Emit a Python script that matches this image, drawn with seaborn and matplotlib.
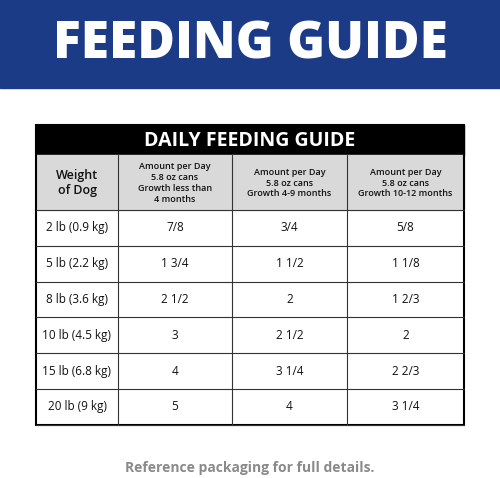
import matplotlib
matplotlib.use("Agg")
import matplotlib.pyplot as plt
import seaborn as sns
from matplotlib.patches import Rectangle

sns.set_style("white")
plt.rcParams['font.family'] = ['Open Sans', 'DejaVu Sans']

title = "FEEDING GUIDE"
table_title = "DAILY FEEDING GUIDE"
col_headers = ["Weight\nof Dog",
               "Amount per Day\n5.8 oz cans\nGrowth less than\n4 months",
               "Amount per Day\n5.8 oz cans\nGrowth 4-9 months",
               "Amount per Day\n5.8 oz cans\nGrowth 10-12 months"]
weights = ["2 lb (0.9 kg)", "5 lb (2.2 kg)", "8 lb (3.6 kg)", "10 lb (4.5 kg)", "15 lb (6.8 kg)", "20 lb (9 kg)"]
under4 = ["7/8", "1 3/4", "2 1/2", "3", "4", "5"]
m4_9 = ["3/4", "1 1/2", "2", "2 1/2", "3 1/4", "4"]
m10_12 = ["5/8", "1 1/8", "1 2/3", "2", "2 2/3", "3 1/4"]
footer = "Reference packaging for full details."

fig = plt.figure(figsize=(5, 4.78), dpi=100)
ax = fig.add_axes([0, 0, 1, 1])
ax.set_xlim(0, 500)
ax.set_ylim(478, 0)
ax.axis("off")

ax.add_patch(Rectangle((0, 0), 500, 88, color="#1c3b86"))
ax.text(250, 45, title, color="white", fontsize=37, fontweight="heavy", ha="center", va="center")

xs = [36, 118, 232, 347, 464]
ax.add_patch(Rectangle((36, 125), 428, 30, color="black"))
ax.text(250, 141, table_title, color="white", fontsize=14, fontweight="bold", ha="center", va="center")
ax.add_patch(Rectangle((36, 155), 428, 55, color="#d9d9d9"))
for i, h in enumerate(col_headers):
    cx = (xs[i] + xs[i + 1]) / 2
    ax.text(cx, 183, h, fontsize=9 if i == 0 else 6.5, fontweight="semibold", ha="center", va="center",
            linespacing=1.25, color="#111")
rows = list(zip(weights, under4, m4_9, m10_12))
y0, rh = 210, 35.8
for r, vals in enumerate(rows):
    cy = y0 + rh * (r + 0.5)
    for i, v in enumerate(vals):
        cx = (xs[i] + xs[i + 1]) / 2
        ax.text(cx, cy, v, fontsize=8.5, ha="center", va="center", color="#111")
ybot = y0 + rh * len(rows)
for r in range(len(rows) + 1):
    ax.plot([36, 464], [y0 + rh * r] * 2, color="#333", lw=0.8)
for x in xs[1:-1]:
    ax.plot([x, x], [155, ybot], color="#333", lw=0.8)
ax.add_patch(Rectangle((36, 125), 428, ybot - 125, fill=False, ec="black", lw=1.5))

ax.text(250, 468, footer, fontsize=10, fontweight="bold", color="#8a8a8a", ha="center", va="center")
fig.savefig("out.png", dpi=100)
